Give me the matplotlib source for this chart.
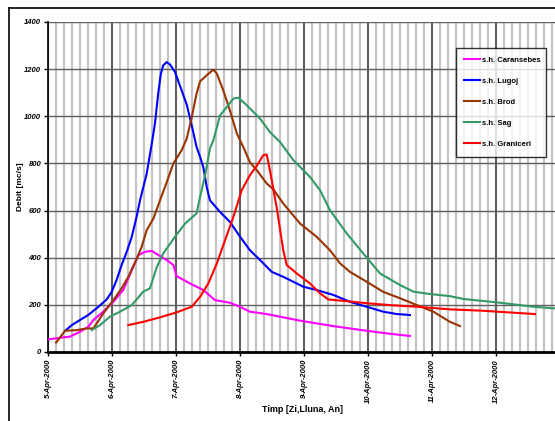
import numpy as np
import matplotlib
matplotlib.use("Agg")
import matplotlib.pyplot as plt
import matplotlib.dates as mdates
from matplotlib.lines import Line2D
from matplotlib.ticker import FuncFormatter, MultipleLocator

plt.rcParams['font.family'] = ['Liberation Sans', 'DejaVu Sans']

# hours since 5-Apr-2000 00:00 and discharge [mc/s]
caransebes_h = [0, 5.6, 8.1, 11.9, 15, 16.9, 20.6, 24.4, 28.1, 31.3, 33.8, 36.3, 38.8, 41.3,
                44.4, 46.9, 48.1, 53.1, 58.1, 62.5, 68.1, 71.9, 75.6, 81.9, 94.4, 106.8,
                119.4, 126.9, 135.6]
caransebes_q = [54, 62, 65, 86, 107, 136, 171, 213, 263, 347, 411, 425, 429, 411,
                390, 369, 322, 291, 263, 220, 209, 192, 171, 161, 133, 110,
                90, 79, 68]

lugoj_h = [6.3, 8.8, 11.9, 15, 18.8, 21.9, 23.8, 25.6, 27.5, 29.4, 31.3, 33.1, 34.4, 36.9,
           38.8, 40.0, 41.2, 42.2, 43.1, 44.4, 45.6, 47.5, 50.0, 51.9, 53.8, 55.6, 56.9,
           58.1, 59.4, 60.6, 64.4, 68.1, 71.9, 75.6, 79.4, 83.8, 88.1, 95.6, 100.6, 106.9,
           113.1, 119.4, 125.6, 130.7, 135.6]
lugoj_q = [90, 114, 136, 157, 192, 223, 256, 305, 369, 425, 489, 573, 644, 757,
           884, 970, 1096, 1180, 1216, 1230, 1220, 1188, 1110, 1050, 960, 870, 828,
           785, 700, 644, 594, 552, 489, 432, 390, 340, 319, 277, 263, 242,
           213, 192, 171, 161, 157]

brod_h = [2.9, 6.3, 10.7, 14.4, 16.9, 18.2, 20.6, 24.4, 27.5, 30, 33.2, 35, 36.9, 39.4,
          41.9, 44.4, 46.9, 50, 51.9, 53.8, 55.6, 56.9, 59.4, 61.9, 63.2, 65.6, 68.1,
          70.7, 73.1, 75.6, 78.2, 81.9, 84.4, 88.1, 94.4, 100.6, 105.6, 109.4, 113.1,
          119.4, 125.6, 131.9, 138.2, 144.4, 150.6, 154.4]
brod_q = [40, 90, 93, 100, 100, 122, 164, 220, 270, 319, 397, 446, 517, 566,
          644, 720, 800, 856, 905, 997, 1096, 1148, 1174, 1198, 1181, 1110, 1025,
          927, 870, 805, 771, 715, 690, 630, 545, 489, 432, 376, 340,
          298, 255, 228, 199, 171, 128, 110]

sag_h = [16.3, 19.4, 23.1, 26.9, 31.3, 35.6, 38.1, 40.7, 43.1, 47.5, 51.3, 55.6, 56.9,
         58.1, 59.4, 60.6, 61.9, 64.4, 66.9, 69.4, 71.3, 74.4, 79.4, 83.1, 86.9, 91.9,
         98.1, 101.9, 105.6, 111.9, 118.1, 124.4, 131.9, 136.9, 143.1, 150.6, 155.6,
         169.4, 181.9, 190]
sag_q = [93, 114, 150, 171, 199, 256, 270, 361, 418, 489, 545, 588, 658,
         715, 785, 863, 898, 1004, 1039, 1075, 1079, 1047, 990, 933, 891, 814,
         743, 686, 602, 503, 418, 333, 284, 256, 246, 237, 225,
         209, 192, 185]

graniceri_h = [30, 35.6, 41.9, 48.1, 53.8, 56.9, 60, 63.2, 66.3, 69.4, 72.5, 75.6, 78.2,
               80.6, 81.9, 83.1, 85.6, 88.1, 89.4, 93.2, 98.1, 101.9, 105, 110.6, 119.4,
               128.1, 138.2, 150.6, 163, 182.5]
graniceri_q = [114, 128, 147, 168, 192, 234, 291, 376, 475, 573, 686, 750, 790,
               835, 838, 771, 616, 432, 369, 333, 291, 249, 223, 217, 207,
               199, 192, 181, 175, 161]

series = [
    ('s.h. Caransebes', caransebes_h, caransebes_q, '#ff00ff'),
    ('s.h. Lugoj', lugoj_h, lugoj_q, '#0000ff'),
    ('s.h. Brod', brod_h, brod_q, '#993300'),
    ('s.h. Sag', sag_h, sag_q, '#339966'),
    ('s.h. Graniceri', graniceri_h, graniceri_q, '#ff0000'),
]

start = np.datetime64('2000-04-05T00:00')


def to_dates(hours):
    return start + (np.array(hours) * 60).round().astype('timedelta64[m]')


fig = plt.figure(figsize=(5.55, 4.21), dpi=100)
ax = fig.add_axes([48.3 / 555, 1 - 352 / 421, 1 - 48.3 / 555, 330 / 421])

for name, h, q, col in series:
    ax.plot(to_dates(h), q, color=col, lw=1.5, label=name, zorder=3)

ax.set_xlim(start, start + np.timedelta64(190 * 60, 'm'))
ax.set_ylim(0, 1400)

ax.xaxis.set_major_locator(mdates.DayLocator())
ax.xaxis.set_minor_locator(mdates.HourLocator(byhour=range(3, 24, 3)))
ax.xaxis.set_major_formatter(FuncFormatter(
    lambda v, pos: '{}-{}'.format(mdates.num2date(v).day, mdates.num2date(v).strftime('%b-%Y'))))
ax.yaxis.set_major_locator(MultipleLocator(200))

ax.grid(which='minor', axis='x', color='#c4c4c4', lw=1.6, zorder=1)
ax.grid(which='major', axis='x', color='#606060', lw=1.5, zorder=2)
ax.grid(which='major', axis='y', color='#606060', lw=1.0, zorder=2)
ax.set_axisbelow(True)

for s in ['top', 'right']:
    ax.spines[s].set_visible(False)
ax.spines['bottom'].set_linewidth(2)
ax.spines['left'].set_linewidth(1.2)

ax.tick_params(axis='x', which='major', length=3, width=1, rotation=90, pad=2)
ax.tick_params(axis='x', which='minor', length=0)
ax.tick_params(axis='y', length=3, width=1, pad=2)
for lbl in ax.get_xticklabels() + ax.get_yticklabels():
    lbl.set_fontsize(5.5)
    lbl.set_fontstyle('italic')
    lbl.set_fontweight('bold')

fig.text(20 / 555, 1 - 187 / 421, 'Debit [mc/s]', rotation=90, ha='center', va='center',
         fontsize=6, fontweight='bold')
fig.text(303 / 555, 1 - 410 / 421, 'Timp [Zi,Lluna, An]', ha='center', va='center',
         fontsize=6.5, fontweight='bold')

leg = fig.legend(loc='upper left', mode='expand',
                 bbox_to_anchor=(456 / 555, 1 - 48 / 421, 90 / 555, 0),
                 prop={'weight': 'bold', 'size': 5.5},
                 frameon=True, fancybox=False, edgecolor='black',
                 handlelength=2.0, handletextpad=0.3, labelspacing=1.8,
                 borderpad=1.1, borderaxespad=0)
leg.get_frame().set_linewidth(1.0)

# outer chart border (cropped on right and bottom)
fig.add_artist(Line2D([9 / 555, 9 / 555], [0, 1 - 8 / 421], color='black', lw=1.2,
                      transform=fig.transFigure))
fig.add_artist(Line2D([9 / 555, 1], [1 - 8 / 421, 1 - 8 / 421], color='black', lw=1.2,
                      transform=fig.transFigure))

fig.savefig('out.png', dpi=100)
